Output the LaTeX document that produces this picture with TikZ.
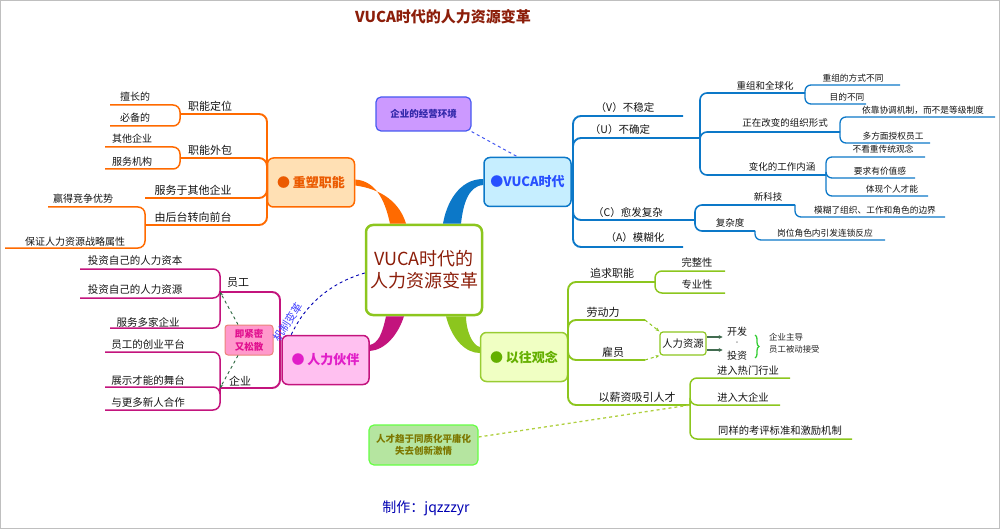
\documentclass[tikz,border=0pt]{standalone}
\usepackage{fontspec}
\setmainfont{Noto Sans CJK SC}
\usetikzlibrary{decorations.pathreplacing,arrows.meta}
\definecolor{cBlue}{RGB}{12,120,200}
\definecolor{cOr}{RGB}{255,106,0}
\definecolor{cMg}{RGB}{195,20,125}
\definecolor{cGr}{RGB}{140,198,30}
\definecolor{cTxt}{RGB}{20,20,20}
\definecolor{cTitle}{RGB}{140,30,10}
\definecolor{cDkG}{RGB}{40,100,60}
\definecolor{cBr}{RGB}{50,205,50}
\definecolor{cDash}{RGB}{70,90,240}
\definecolor{szFill}{RGB}{255,224,180}
\definecolor{szText}{RGB}{235,90,0}
\definecolor{vuFill}{RGB}{198,238,255}
\definecolor{vuText}{RGB}{40,80,255}
\definecolor{hpFill}{RGB}{255,192,240}
\definecolor{hpText}{RGB}{225,30,200}
\definecolor{ywDraw}{RGB}{153,204,51}
\definecolor{ywFill}{RGB}{240,255,195}
\definecolor{ywText}{RGB}{100,175,0}
\definecolor{envFill}{RGB}{204,153,255}
\definecolor{envText}{RGB}{50,40,170}
\definecolor{bnDraw}{RGB}{102,255,68}
\definecolor{bnFill}{RGB}{181,229,160}
\definecolor{bnText}{RGB}{125,120,0}
\definecolor{pnDraw}{RGB}{235,130,120}
\definecolor{pnFill}{RGB}{255,153,204}
\definecolor{pnText}{RGB}{225,16,143}
\definecolor{lnDash}{RGB}{176,208,64}
\newcommand\fs[1]{\fontsize{#1}{#1}\selectfont}
\newcommand\leaf[9]{\coordinate (#4) at (#5,#6); \node[#2] (#4n) at (#7,#8) {#9}; \draw[#1] (#3) |- (#4);}
\begin{document}
\begin{tikzpicture}[x=1pt,y=-1pt,
  bL/.style={draw=cBlue,line width=1.9pt,rounded corners=8pt},
  bM/.style={draw=cBlue,line width=1.6pt,rounded corners=7pt},
  bS/.style={draw=cBlue,line width=1.3pt,rounded corners=6pt},
  oL/.style={draw=cOr,line width=1.9pt,rounded corners=8pt},
  oS/.style={draw=cOr,line width=1.5pt,rounded corners=7pt},
  mL/.style={draw=cMg,line width=1.9pt,rounded corners=8pt},
  mS/.style={draw=cMg,line width=1.5pt,rounded corners=7pt},
  gL/.style={draw=cGr,line width=1.9pt,rounded corners=8pt},
  gS/.style={draw=cGr,line width=1.5pt,rounded corners=7pt},
  tx/.style={inner sep=0pt,text=cTxt},
  tB1/.style={tx,font=\fs{10.5}},
  tB2/.style={tx,font=\fs{9.5}},
  tB3/.style={tx,font=\fs{8.7}},
  tO1/.style={tx,font=\fs{11}},
  tO2/.style={tx,font=\fs{10}},
  tM1/.style={tx,font=\fs{11}},
  tM2/.style={tx,font=\fs{10.5}},
  tG1/.style={tx,font=\fs{11}},
  tG2/.style={tx,font=\fs{10.3}},
  mainbox/.style={rounded corners=6pt,line width=1.5pt,inner sep=0pt,minimum width=87pt,minimum height=49pt,font=\fs{13}\bfseries}
]
\useasboundingbox (0,0) rectangle (1000,529);
\draw[gray!50] (0.5,0.5) rectangle (999.5,528.5);

% title and credit
\node[inner sep=0pt,text=cTitle,font=\fs{15}\bfseries] (title) at (443,17) {VUCA时代的人力资源变革};
\node[inner sep=0pt,text=blue!70!black,font=\fs{14}] (credit) at (426,508) {制作：jqzzzyr};

% central and main nodes
\node[draw=cGr,line width=2.5pt,fill=white,rounded corners=7pt,minimum width=116pt,minimum height=90pt,inner sep=0pt,text=cTitle,align=center,font=\fontsize{18}{22}\selectfont] (ctr) at (424,270) {VUCA时代的\\人力资源变革};
\node[mainbox,draw=cOr,fill=szFill,text=szText] (sz) at (311,182.5) {● 重塑职能};
\node[mainbox,draw=cBlue,fill=vuFill,text=vuText] (vuca) at (527.5,182) {●VUCA时代};
\node[mainbox,draw=cMg,fill=hpFill,text=hpText] (hp) at (325.5,360) {● 人力伙伴};
\node[mainbox,draw=ywDraw,fill=ywFill,text=ywText] (yw) at (524,357) {● 以往观念};

% side nodes
\node[draw=cDash,line width=1.2pt,fill=envFill,rounded corners=5pt,minimum width=95pt,minimum height=34pt,inner sep=0pt,text=envText,font=\fs{9.5}\bfseries] (env) at (423.5,114) {企业的经营环境};
\node[draw=bnDraw,line width=1.2pt,fill=bnFill,rounded corners=5pt,minimum width=109pt,minimum height=40pt,inner sep=0pt,align=center,text=bnText,font=\fontsize{9.5}{12}\selectfont\bfseries] (bn) at (423.5,445) {人才趋于同质化平庸化\\失去创新激情};
\node[draw=pnDraw,line width=1pt,fill=pnFill,rounded corners=3pt,minimum width=48pt,minimum height=30pt,inner sep=0pt,align=center,text=pnText,font=\fontsize{9.5}{13}\selectfont\bfseries] (PN) at (249,340) {即紧密\\又松散};
\node[draw=cGr,line width=1.2pt,fill=white,rounded corners=3pt,minimum width=46pt,minimum height=23pt,inner sep=0pt,text=cTxt,font=\fs{10.3}] (HR) at (683,343.5) {人力资源};

% main connectors (tapered, thick at the centre)
\fill[cOr] ([yshift=3pt]sz.east) .. controls (378,181) and (386,205) .. ([xshift=-34pt]ctr.north) -- ([xshift=-18pt]ctr.north) .. controls (400,203) and (382,189) .. ([yshift=-3pt]sz.east) -- cycle;
\fill[cBlue] ([yshift=3pt]vuca.west) .. controls (458,179) and (446,205) .. ([xshift=19pt]ctr.north) -- ([xshift=37pt]ctr.north) .. controls (463,205) and (468,186) .. ([yshift=-3pt]vuca.west) -- cycle;
\fill[cMg] ([xshift=-38pt]ctr.south) .. controls (382,335) and (378,343) .. ([yshift=15pt]hp.east) -- ([yshift=9pt]hp.east) .. controls (385,350) and (398,335) .. ([xshift=-20pt]ctr.south) -- cycle;
\fill[cGr] ([xshift=22pt]ctr.south) .. controls (452,340) and (466,353) .. ([yshift=4pt]yw.west) -- ([yshift=10pt]yw.west) .. controls (472,345) and (466,330) .. ([xshift=42pt]ctr.south) -- cycle;

% VUCA branches
\coordinate (VT) at (573,182);
\leaf{bL}{tB1}{VT}{bV}{683}{116}{625}{108}{（V）不稳定}
\leaf{bL}{tB1}{VT}{bU}{700}{138}{620}{130}{（U）不确定}
\leaf{bL}{tB1}{VT}{bC}{695}{220}{628}{213}{（C）愈发复杂}
\leaf{bL}{tB1}{VT}{bA}{683}{247}{635}{238}{（A）模糊化}
\leaf{bM}{tB2}{bU}{bU1}{805}{93}{765}{86}{重组和全球化}
\leaf{bM}{tB2}{bU}{bU2}{840}{132}{785}{123}{正在改变的组织形式}
\leaf{bM}{tB2}{bU}{bU3}{826}{175}{782}{167}{变化的工作内涵}
\leaf{bS}{tB3}{bU1}{bU11}{900}{85}{853}{78}{重组的方式不同}
\leaf{bS}{tB3}{bU1}{bU12}{866}{104}{847}{97}{目的不同}
\leaf{bS}{tB3}{bU2}{bU21}{995}{117}{923}{110}{依靠协调机制，而不是等级制度}
\leaf{bS}{tB3}{bU2}{bU22}{930}{143}{893}{136}{多方面授权员工}
\leaf{bS}{tB3}{bU3}{bU31}{925}{157}{883}{149}{不看重传统观念}
\leaf{bS}{tB3}{bU3}{bU32}{915}{178}{880}{171}{要求有价值感}
\leaf{bS}{tB3}{bU3}{bU33}{928}{196}{892}{189}{体现个人才能}
\leaf{bM}{tB2}{bC}{bC1}{795}{205}{768}{197}{新科技}
\leaf{bS}{tB3}{bC1}{bC11}{945}{217}{875}{210}{模糊了组织、工作和角色的边界}
\leaf{bM}{tB2}{bC}{bC2}{755}{231}{730}{223}{复杂度}
\leaf{bS}{tB3}{bC2}{bC21}{885}{240}{825}{233}{岗位角色内引发连锁反应}

% orange branches
\coordinate (OT) at (267,183);
\leaf{oL}{tO1}{OT}{o1}{180}{114}{210}{106}{职能定位}
\leaf{oS}{tO2}{o1}{o11}{110}{105}{135}{97}{擅长的}
\leaf{oS}{tO2}{o1}{o12}{110}{126}{135}{118}{必备的}
\leaf{oL}{tO1}{OT}{o2}{180}{158}{210}{150}{职能外包}
\leaf{oS}{tO2}{o2}{o21}{105}{147}{132}{139}{其他企业}
\leaf{oS}{tO2}{o2}{o22}{105}{169}{132}{162}{服务机构}
\leaf{oL}{tO1}{OT}{o3}{145}{198}{193}{190}{服务于其他企业}
\leaf{oL}{tO1}{OT}{o4}{145}{225}{193}{217}{由后台转向前台}
\leaf{oS}{tO2}{o4}{o41}{48}{207}{83}{199}{赢得竞争优势}
\leaf{oS}{tO2}{o4}{o42}{5}{248}{75}{242}{保证人力资源战略属性}

% magenta branches
\coordinate (MT) at (280,360);
\leaf{mL}{tM1}{MT}{m1}{220}{292}{238}{283}{员工}
\leaf{mS}{tM2}{m1}{m11}{80}{269}{135}{261}{投资自己的人力资本}
\leaf{mS}{tM2}{m1}{m12}{80}{298}{135}{290}{投资自己的人力资源}
\leaf{mS}{tM2}{m1}{m13}{110}{328}{148}{322}{服务多家企业}
\leaf{mL}{tM1}{MT}{m2}{220}{388}{240}{381}{企业}
\leaf{mS}{tM2}{m2}{m21}{105}{352}{148}{345}{员工的创业平台}
\leaf{mS}{tM2}{m2}{m22}{105}{387}{148}{380}{展示才能的舞台}
\leaf{mS}{tM2}{m2}{m23}{105}{410}{148}{402}{与更多新人合作}

% green branches
\coordinate (GT) at (568,357);
\leaf{gL}{tG1}{GT}{g1}{655}{282}{612}{273}{追求职能}
\leaf{gS}{tG2}{g1}{g11}{725}{271}{697}{263}{完整性}
\leaf{gS}{tG2}{g1}{g12}{725}{293}{697}{285}{专业性}
\leaf{gL}{tG1}{GT}{g2}{645}{320}{603}{312}{劳动力}
\leaf{gL}{tG1}{GT}{g3}{645}{360}{613}{352}{雇员}
\leaf{gL}{tG1}{GT}{g4}{690}{405}{637}{397}{以薪资吸引人才}
\leaf{gS}{tG2}{g4}{g41}{790}{378}{748}{371}{进入热门行业}
\leaf{gS}{tG2}{g4}{g42}{780}{405}{743}{398}{进入大企业}
\leaf{gS}{tG2}{g4}{g43}{852}{439}{780}{431}{同样的考评标准和激励机制}

% human resource detail
\draw[cGr,dashed,line width=1pt,-{Stealth[length=4pt]}] (g2) -- (HR.north west);
\draw[cGr,dashed,line width=1pt,-{Stealth[length=4pt]}] (g3) -- (HR.south west);
\node[tx,font=\fs{10}] (kf) at (737,332) {开发};
\node[tx,font=\fs{7}] (dot) at (737,343) {-};
\node[tx,font=\fs{10}] (tz) at (737,356) {投资};
\draw[cDkG!70!gray,line width=1.2pt,-{Stealth[length=4pt,width=4pt]}] ([yshift=6.5pt]HR.east) -- ++(16,0);
\draw[cDkG!70!gray,line width=1.2pt,-{Stealth[length=4pt,width=4pt]}] ([yshift=-6.5pt]HR.east) -- ++(16,0);
\draw[cBr,line width=1.3pt,decorate,decoration={brace,amplitude=4pt}] (755,335) -- (755,358);
\node[tx,anchor=west,font=\fs{8.5},text=gray!30!black] (qy) at (769,337) {企业主导};
\node[tx,anchor=west,font=\fs{8.4},text=gray!30!black] (yg) at (769,349) {员工被动接受};

% dashed relations
\draw[cDkG,dashed,line width=0.9pt,-{Stealth[length=4pt]}] ([xshift=-11pt]PN.north) -- (m1);
\draw[cDkG,dashed,line width=0.9pt,-{Stealth[length=4pt]}] ([xshift=-11pt]PN.south) -- (m2);
\draw[cDash,dashed,line width=1pt] (env.south east) -- ([xshift=-10pt]vuca.north);
\draw[lnDash,dashed,line width=1.3pt] ([yshift=8pt]bn.east) -- (g4);
\draw[blue!70!black,dashed,line width=0.9pt] ([yshift=-3pt]ctr.west) .. controls (330,283) and (305,305) .. ([xshift=10pt]hp.north west);
\node[inner sep=0pt,rotate=57,text=blue!75!white,font=\fs{11}] (jz) at (288,322) {机制变革};
\end{tikzpicture}
\end{document}
